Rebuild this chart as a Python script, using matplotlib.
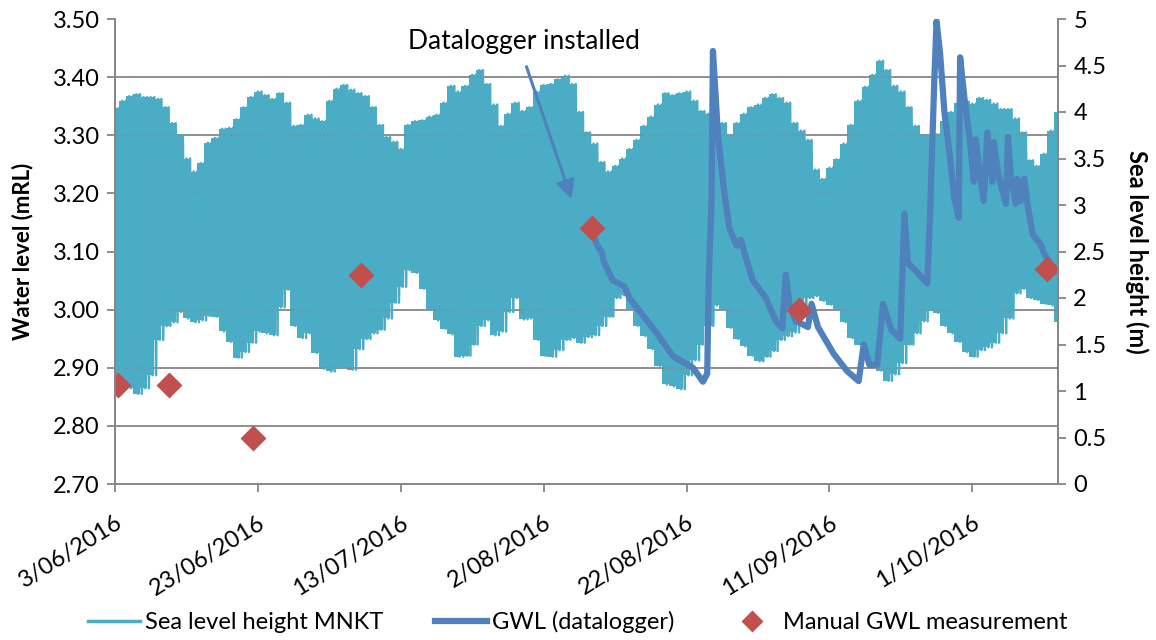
import numpy as np
import pandas as pd
import matplotlib
matplotlib.use('Agg')
import matplotlib.pyplot as plt
from matplotlib.lines import Line2D
from matplotlib.ticker import FixedLocator, FuncFormatter

plt.rcParams['font.family'] = ['Lato', 'DejaVu Sans']

start = pd.Timestamp('2016-06-03')

# daily high / low tide at MNKT (m), one value per day from start
sea_hi = [4.04, 4.12, 4.17, 4.19, 4.16, 4.16, 4.14, 4.05, 3.88, 3.75,
          3.50, 3.36, 3.45, 3.67, 3.72, 3.82, 3.83, 3.92, 4.05, 4.16,
          4.22, 4.18, 4.14, 4.20, 4.10, 3.85, 3.86, 3.97, 3.93, 3.90,
          4.12, 4.25, 4.29, 4.24, 4.20, 4.17, 4.05, 3.86, 3.73, 3.68,
          3.60, 3.86, 3.90, 3.91, 3.95, 3.97, 4.10, 4.28, 4.22, 4.28,
          4.40, 4.45, 4.30, 4.08, 3.85, 3.98, 4.10, 4.01, 4.05, 4.22,
          4.29, 4.30, 4.35, 4.39, 4.30, 4.00, 3.78, 3.66, 3.46, 3.36,
          3.42, 3.50, 3.60, 3.70, 3.85, 3.95, 4.08, 4.20, 4.18, 4.20,
          4.22, 4.12, 4.01, 3.98, 3.92, 3.88, 3.75, 3.88, 3.98, 4.05,
          4.08, 4.15, 4.19, 4.15, 4.10, 3.88, 3.80, 3.70, 3.38, 3.28,
          3.40, 3.49, 3.66, 3.86, 4.12, 4.27, 4.40, 4.55, 4.45, 4.28,
          4.22, 4.05, 3.85, 3.75, 3.75, 3.76, 3.90, 4.00, 4.10, 4.11,
          4.09, 4.15, 4.13, 4.09, 4.03, 4.03, 3.93, 3.78, 3.48, 3.42,
          3.55, 3.80, 4.00]
sea_lo = [1.12, 1.05, 1.03, 0.97, 1.03, 1.17, 1.55, 1.70, 1.74, 1.85,
          1.78, 1.74, 1.76, 1.81, 1.80, 1.64, 1.53, 1.36, 1.42, 1.52,
          1.64, 1.62, 1.60, 1.90, 2.09, 1.70, 1.57, 1.62, 1.41, 1.24,
          1.21, 1.25, 1.26, 1.23, 1.45, 1.56, 1.62, 1.66, 1.78, 1.95,
          2.12, 2.30, 2.27, 2.10, 1.88, 1.76, 1.67, 1.61, 1.37, 1.38,
          1.50, 1.70, 1.76, 1.60, 1.64, 1.85, 2.00, 1.77, 1.78, 1.55,
          1.38, 1.37, 1.44, 1.55, 1.57, 1.52, 1.58, 1.60, 1.70, 1.80,
          2.00, 2.03, 1.88, 1.70, 1.59, 1.45, 1.27, 1.07, 1.05, 1.02,
          1.17, 1.33, 1.50, 1.70, 1.92, 1.88, 1.68, 1.56, 1.48, 1.38,
          1.32, 1.37, 1.43, 1.55, 1.59, 1.63, 1.80, 2.00, 2.02, 1.97,
          1.93, 1.88, 1.74, 1.57, 1.50, 1.40, 1.30, 1.22, 1.11, 1.18,
          1.30, 1.50, 1.62, 1.75, 1.87, 1.84, 1.70, 1.62, 1.53, 1.42,
          1.37, 1.44, 1.47, 1.52, 1.62, 1.78, 2.05, 2.10, 2.00, 1.98,
          1.94, 1.92, 1.74]

# datalogger GWL (mRL), time in days after start
gwl_day = [66.7, 67.5, 68.1, 68.5, 69.7, 71.3, 72.0, 73.9, 75.8, 78.1,
           80.9, 82.3, 82.9, 83.1, 83.5, 83.7, 84.4, 85.3, 86.0, 87.0,
           87.6, 88.3, 89.3, 91.1, 92.5, 93.4, 93.9, 94.4, 95.3, 96.2,
           97.0, 97.5, 98.4, 100.6, 102.5, 104.1, 104.8, 105.6, 106.7, 107.5,
           108.7, 109.9, 110.5, 111.0, 112.0, 113.7, 114.1, 114.7, 115.0, 115.5,
           116.1, 116.8, 117.5, 118.1, 118.3, 118.9, 119.7, 120.2, 120.5, 121.1,
           121.6, 122.1, 122.8, 123.0, 123.7, 124.7, 125.0, 125.4, 126.1, 126.3,
           126.8, 127.3, 127.8, 128.5, 129.5, 130.2, 131.4]
gwl_val = [3.14, 3.11, 3.10, 3.08, 3.05, 3.04, 3.02, 2.99, 2.96, 2.92,
           2.90, 2.876, 2.89, 3.05, 3.19, 3.445, 3.30, 3.20, 3.14, 3.11,
           3.12, 3.09, 3.05, 3.02, 2.98, 2.968, 3.06, 3.01, 2.98, 2.975,
           2.97, 3.01, 2.97, 2.924, 2.894, 2.877, 2.94, 2.905, 2.905, 3.01,
           2.965, 2.95, 3.165, 3.08, 3.068, 3.045, 3.166, 3.40, 3.496, 3.44,
           3.34, 3.27, 3.19, 3.158, 3.434, 3.364, 3.288, 3.22, 3.293, 3.228,
           3.187, 3.305, 3.22, 3.288, 3.229, 3.182, 3.297, 3.228, 3.182, 3.225,
           3.187, 3.225, 3.175, 3.128, 3.114, 3.093, 3.07]

# manual dip readings
manual_day = [0.46, 7.5, 19.3, 34.5, 66.7, 95.7, 130.5]
manual_val = [2.87, 2.87, 2.78, 3.06, 3.14, 3.00, 3.07]

tick_dates = ['2016-06-03', '2016-06-23', '2016-07-13', '2016-08-02',
              '2016-08-22', '2016-09-11', '2016-10-01']

teal = '#4BACC6'
blue = '#4F81BD'
red = '#C0504D'
grey = '#868686'

# two tides a day: high, low, high, low
days = np.arange(len(sea_hi))
day_t = start + pd.to_timedelta(days, unit='D')
tide_t = start + pd.to_timedelta((days[:, None] + np.array([0, 0.25, 0.5, 0.75])).ravel(), unit='D')
tide_v = np.column_stack([sea_hi, sea_lo, sea_hi, sea_lo]).ravel()

gwl_t = start + pd.to_timedelta(gwl_day, unit='D')
man_t = start + pd.to_timedelta(manual_day, unit='D')

fig = plt.figure(figsize=(11.56, 6.4), dpi=100)
ax = fig.add_axes([115/1156, 1 - 484/640, (1058 - 115)/1156, (484 - 19)/640])
ax2 = ax.twinx()
ax.set_zorder(3)
ax2.set_zorder(2)
ax.patch.set_visible(False)

# tidal band: body between daily low and high, trace on top for the spikes
ax2.fill_between(day_t, sea_lo, sea_hi, color=teal, lw=0, step='mid')
ax2.plot(tide_t, tide_v, color=teal, lw=1.8)
ax.plot(gwl_t, gwl_val, color=blue, lw=4.5, solid_joinstyle='round',
        solid_capstyle='round')
ax.plot(man_t, manual_val, 'D', color=red, ms=13.5, mec='none')

ax.set_xlim(start, start + pd.Timedelta(days=132))
ax.set_ylim(2.7, 3.5)
ax2.set_ylim(0, 5)

ax.set_yticks(np.arange(2.7, 3.501, 0.1))
ax.yaxis.set_major_formatter(FuncFormatter(lambda v, p: '%.2f' % v))
ax2.set_yticks(np.arange(0, 5.01, 0.5))
ax2.yaxis.set_major_formatter(FuncFormatter(lambda v, p: ('%g' % v)))

# horizontal gridlines follow the left axis but sit under the tide trace
ax2.yaxis.set_minor_locator(FixedLocator(np.linspace(0, 5, 9)))
ax2.grid(which='minor', axis='y', color=grey, lw=1.3)
ax2.tick_params(which='minor', length=0)

ticks = pd.to_datetime(tick_dates)
ax.set_xticks(ticks)
ax.set_xticklabels(['%d/%02d/%d' % (d.day, d.month, d.year) for d in ticks],
                   rotation=32, ha='right', va='top', rotation_mode='anchor')

for a in (ax, ax2):
    a.spines['top'].set_visible(False)
    for s in ('left', 'right', 'bottom'):
        a.spines[s].set_color(grey)
        a.spines[s].set_linewidth(1.3)
    a.tick_params(which='major', direction='out', length=6, width=1.3,
                  color=grey, labelsize=17, pad=5)
ax.tick_params(axis='x', pad=14)

ax.set_ylabel('Water level (mRL)', fontsize=16, fontweight='bold', labelpad=14)
ax2.set_ylabel('Sea level height (m)', fontsize=17, fontweight='bold',
               rotation=270, labelpad=30)

ax.text(start + pd.Timedelta(days=57.3), 3.462, 'Datalogger installed',
        fontsize=19, ha='center', va='center')
ax.annotate('', xy=(start + pd.Timedelta(days=63.9), 3.19),
            xytext=(start + pd.Timedelta(days=57.6), 3.418),
            arrowprops=dict(arrowstyle='-|>,head_length=0.7,head_width=0.35',
                            color=blue, lw=2.2, mutation_scale=16,
                            shrinkA=0, shrinkB=0))

handles = [Line2D([], [], color=teal, lw=2.5),
           Line2D([], [], color=blue, lw=4.5),
           Line2D([], [], ls='none', marker='D', color=red, ms=11, mec='none')]
fig.legend(handles, ['Sea level height MNKT', 'GWL (datalogger)', 'Manual GWL measurement'],
           loc='center', bbox_to_anchor=(0.5, 1 - 622/640), ncol=3, frameon=False,
           fontsize=17, handlelength=2.2, handletextpad=0.2, columnspacing=2.2)

fig.savefig('out.png', dpi=100)
